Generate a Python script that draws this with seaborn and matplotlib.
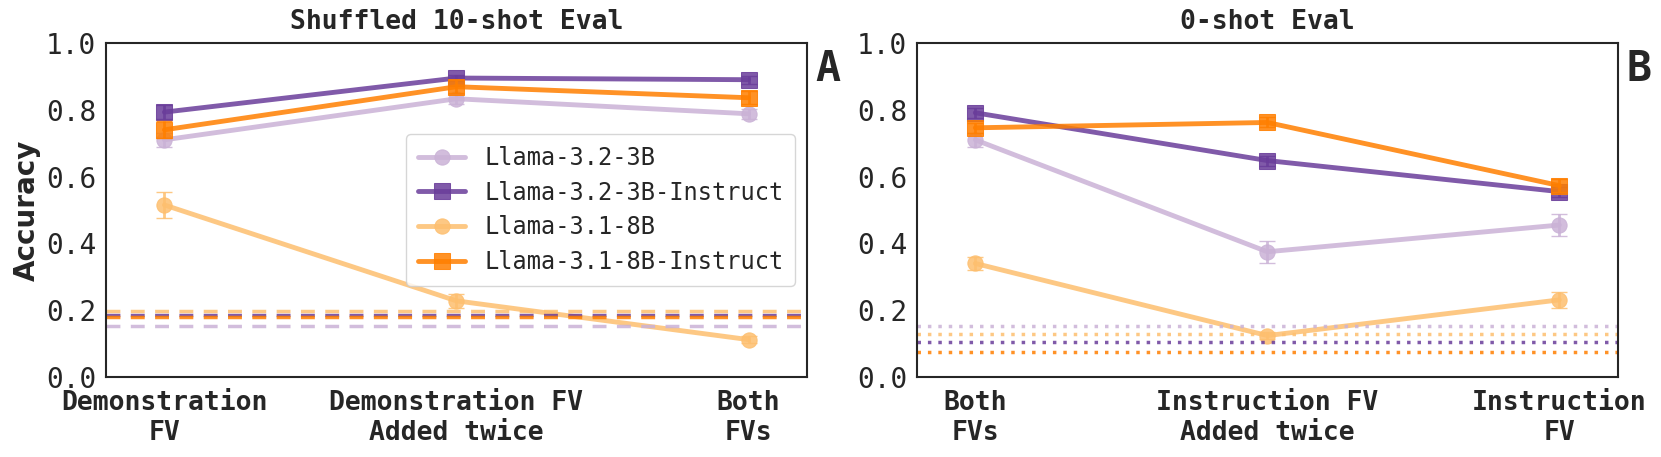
import numpy as np
import pandas as pd
import matplotlib
matplotlib.use("Agg")
import matplotlib.pyplot as plt
import seaborn as sns

models = ["Llama-3.2-3B", "Llama-3.2-3B-Instruct", "Llama-3.1-8B", "Llama-3.1-8B-Instruct"]
colors = ["#cab2d6", "#6a3d9a", "#fdbf6f", "#ff7f00"]
markers = ["o", "s", "o", "s"]

# panel A: shuffled 10-shot
labels_a = ["Demonstration\nFV", "Demonstration FV\nAdded twice", "Both\nFVs"]
acc_a = {
    "Llama-3.2-3B": [0.710, 0.833, 0.788],
    "Llama-3.2-3B-Instruct": [0.793, 0.895, 0.890],
    "Llama-3.1-8B": [0.515, 0.228, 0.112],
    "Llama-3.1-8B-Instruct": [0.740, 0.869, 0.836],
}
err_a = {
    "Llama-3.2-3B": [0.020, 0.015, 0.015],
    "Llama-3.2-3B-Instruct": [0.020, 0.010, 0.012],
    "Llama-3.1-8B": [0.040, 0.020, 0.010],
    "Llama-3.1-8B-Instruct": [0.025, 0.020, 0.020],
}
base_a = {
    "Llama-3.2-3B": 0.154,
    "Llama-3.2-3B-Instruct": 0.186,
    "Llama-3.1-8B": 0.198,
    "Llama-3.1-8B-Instruct": 0.181,
}

# panel B: 0-shot
labels_b = ["Both\nFVs", "Instruction FV\nAdded twice", "Instruction\nFV"]
acc_b = {
    "Llama-3.2-3B": [0.710, 0.375, 0.455],
    "Llama-3.2-3B-Instruct": [0.791, 0.648, 0.555],
    "Llama-3.1-8B": [0.340, 0.124, 0.231],
    "Llama-3.1-8B-Instruct": [0.746, 0.762, 0.573],
}
err_b = {
    "Llama-3.2-3B": [0.020, 0.033, 0.033],
    "Llama-3.2-3B-Instruct": [0.015, 0.015, 0.015],
    "Llama-3.1-8B": [0.020, 0.010, 0.025],
    "Llama-3.1-8B-Instruct": [0.015, 0.015, 0.020],
}
base_b = {
    "Llama-3.2-3B": 0.153,
    "Llama-3.2-3B-Instruct": 0.106,
    "Llama-3.1-8B": 0.128,
    "Llama-3.1-8B-Instruct": 0.076,
}

sns.set_style("white")
plt.rcParams["font.family"] = ["DejaVu Sans Mono", "DejaVu Sans"]
plt.rcParams["axes.edgecolor"] = "#262626"

fig = plt.figure(figsize=(16.61, 4.57), dpi=100)
ax1 = fig.add_axes([0.0638, 0.175, 0.422, 0.731])
ax2 = fig.add_axes([0.552, 0.175, 0.422, 0.731])


def draw(ax, labels, acc, err, base, ls, title, letter):
    x = np.arange(len(labels))
    for m, c, mk in zip(models, colors, markers):
        df = pd.DataFrame({"x": x, "y": acc[m]})
        sns.lineplot(data=df, x="x", y="y", ax=ax, color=c, marker=mk,
                     markersize=11, markeredgecolor=c, linewidth=3.5,
                     alpha=0.85, label=m)
        ax.errorbar(x, acc[m], yerr=err[m], fmt="none", ecolor=c,
                    elinewidth=2, capsize=6, alpha=0.85)
    for m, c in zip(models, colors):
        ax.axhline(base[m], color=c, linestyle=ls, linewidth=2.5, alpha=0.85)
    ax.set_xlim(-0.2, 2.2)
    ax.set_ylim(0, 1)
    ax.set_xticks(x)
    ax.set_xticklabels(labels, fontsize=19, fontweight="bold")
    ax.tick_params(axis="x", pad=6)
    ax.set_yticks(np.arange(0, 1.01, 0.2))
    ax.set_yticklabels([f"{v:.1f}" for v in np.arange(0, 1.01, 0.2)], fontsize=20)
    ax.set_xlabel("")
    ax.set_ylabel("")
    ax.set_title(title, fontsize=19, fontweight="bold", pad=10)
    ax.text(1.012, 0.985, letter, transform=ax.transAxes, fontsize=30,
            fontweight="bold", va="top", ha="left")
    for s in ax.spines.values():
        s.set_linewidth(1.5)


draw(ax1, labels_a, acc_a, err_a, base_a, (0, (4, 3)), "Shuffled 10-shot Eval", "A")
draw(ax2, labels_b, acc_b, err_b, base_b, (0, (1, 2)), "0-shot Eval", "B")

ax1.set_ylabel("Accuracy", fontsize=20, fontweight="bold", family="DejaVu Sans")
ax1.legend(loc="center right", fontsize=17, frameon=True, borderpad=0.5,
           handlelength=2.0, labelspacing=0.45)
ax2.get_legend().remove()

fig.savefig("out.png", dpi=100)
